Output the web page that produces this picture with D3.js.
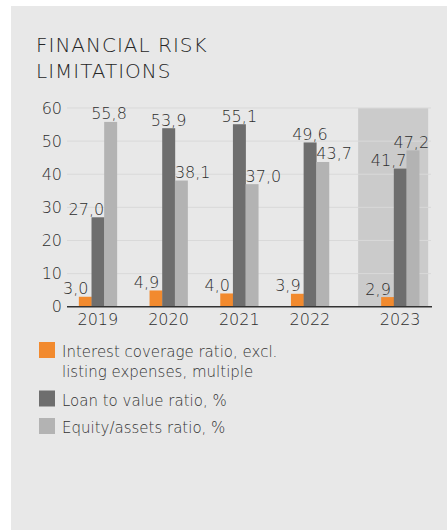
<!DOCTYPE html>
<html>
<head>
<meta charset="utf-8">
<script src="https://cdn.jsdelivr.net/npm/d3@7"></script>
<style>
  html, body { margin: 0; padding: 0; background: #ffffff; }
  svg { display: block; }
  text { font-family: "DejaVu Sans", sans-serif; fill: #2e2e2e; }
</style>
</head>
<body>
<svg id="chart" width="447" height="530"></svg>
<script>
// chart data
var years = ["2019", "2020", "2021", "2022", "2023"];
var interestCoverage = [3.0, 4.9, 4.0, 3.9, 2.9];
var loanToValue = [27.0, 53.9, 55.1, 49.6, 41.7];
var equityAssets = [55.8, 38.1, 37.0, 43.7, 47.2];
var seriesNames = ["Interest coverage ratio, excl. listing expenses, multiple", "Loan to value ratio, %", "Equity/assets ratio, %"];
var yTicks = [0, 10, 20, 30, 40, 50, 60];
var highlightYear = "2023";

var colors = ["#f28a2e", "#6e6e6e", "#b3b3b3"];
var fmt = function(v) { return d3.format(".1f")(v).replace(".", ","); };

var svg = d3.select("#chart");

// panel background
svg.append("rect").attr("x", 11).attr("y", 6).attr("width", 436).attr("height", 524).style("fill", "#e8e8e8");

// title
var title = svg.append("text").attr("x", 36).attr("y", 52)
  .style("font-size", "20px").style("font-weight", "200").style("letter-spacing", "1px").style("fill", "#262626");
title.append("tspan").attr("x", 36).attr("dy", 0).text("FINANCIAL RISK");
title.append("tspan").attr("x", 36).attr("dy", 26).text("LIMITATIONS");

var y = d3.scaleLinear().domain([0, 60]).range([306.7, 108]);
var x = d3.scaleBand().domain(years).range([62.5, 416]);
var gap = 19.5;
var inner = d3.scaleBand().domain([0, 1, 2]).range([0, 38]);

function center(yr) {
  return x(yr) + x.bandwidth() / 2 + (yr === highlightYear ? gap : 0);
}

// highlight band for the latest year
svg.append("rect")
  .attr("x", center(highlightYear) - 42).attr("y", y(60))
  .attr("width", 70).attr("height", y(0) - y(60))
  .style("fill", "#cbcbcb");

// gridlines
svg.selectAll(".grid").data(yTicks.filter(function(d) { return d > 0; })).enter().append("line")
  .attr("class", "grid")
  .attr("x1", 67).attr("x2", 431)
  .attr("y1", function(d) { return y(d); }).attr("y2", function(d) { return y(d); })
  .style("stroke", "#d9d9d9").style("stroke-width", 1);

// y tick labels
svg.selectAll(".ytick").data(yTicks).enter().append("text")
  .attr("class", "ytick")
  .attr("x", 62).attr("y", function(d) { return y(d); }).attr("dy", "0.36em")
  .style("text-anchor", "end").style("font-size", "16px").style("font-weight", "200")
  .text(function(d) { return d; });

var rows = years.map(function(yr, i) {
  return { year: yr, vals: [interestCoverage[i], loanToValue[i], equityAssets[i]] };
});

var groups = svg.selectAll(".grp").data(rows).enter().append("g")
  .attr("class", "grp")
  .attr("transform", function(d) { return "translate(" + (center(d.year) - 19) + ",0)"; });

groups.selectAll("rect").data(function(d) { return d.vals; }).enter().append("rect")
  .attr("x", function(d, i) { return inner(i); })
  .attr("y", function(d) { return y(d); })
  .attr("width", inner.bandwidth() + 0.3)
  .attr("height", function(d) { return y(0) - y(d); })
  .style("fill", function(d, i) { return colors[i]; });

// value labels, nudged to avoid overlapping the neighbour bar
groups.selectAll(".val").data(function(d) {
  return d.vals.map(function(v, i) { return { v: v, i: i, vals: d.vals }; });
}).enter().append("text")
  .attr("class", "val")
  .style("font-size", "16px").style("font-weight", "200")
  .attr("y", function(d) { return y(d.v) - 2.5; })
  .attr("x", function(d) {
    var l = inner(d.i), r = l + inner.bandwidth();
    if (d.i === 0) return r - 3;
    if (d.i === 1) return d.vals[2] > d.vals[1] ? r : (l + r) / 2;
    return d.vals[2] > d.vals[1] ? (l + r) / 2 - 1.5 : l;
  })
  .style("text-anchor", function(d) {
    if (d.i === 0) return "end";
    if (d.i === 1) return d.vals[2] > d.vals[1] ? "end" : "middle";
    return d.vals[2] > d.vals[1] ? "middle" : "start";
  })
  .text(function(d) { return fmt(d.v); });

// baseline
svg.append("line").attr("x1", 67).attr("x2", 432).attr("y1", y(0)).attr("y2", y(0))
  .style("stroke", "#333333").style("stroke-width", 1.6);

// year labels
svg.selectAll(".year").data(years).enter().append("text")
  .attr("class", "year")
  .attr("x", function(d) { return center(d); }).attr("y", 325)
  .style("text-anchor", "middle").style("font-size", "16px").style("font-weight", "200")
  .text(function(d) { return d; });

// legend
var legendRows = [
  { lines: ["Interest coverage ratio, excl.", "listing expenses, multiple"], top: 342 },
  { lines: [seriesNames[1]], top: 390.5 },
  { lines: [seriesNames[2]], top: 418 }
];
var leg = svg.selectAll(".leg").data(legendRows).enter().append("g").attr("class", "leg");
leg.append("rect").attr("x", 39).attr("y", function(d) { return d.top; })
  .attr("width", 16).attr("height", 16)
  .style("fill", function(d, i) { return colors[i]; });
leg.each(function(d) {
  var t = d3.select(this).append("text").attr("x", 62).attr("y", d.top + 15)
    .style("font-size", "15px").style("font-weight", "200").style("fill", "#333");
  d.lines.forEach(function(s, k) {
    t.append("tspan").attr("x", 62).attr("dy", k === 0 ? 0 : 20).text(s);
  });
});
</script>
</body>
</html>
